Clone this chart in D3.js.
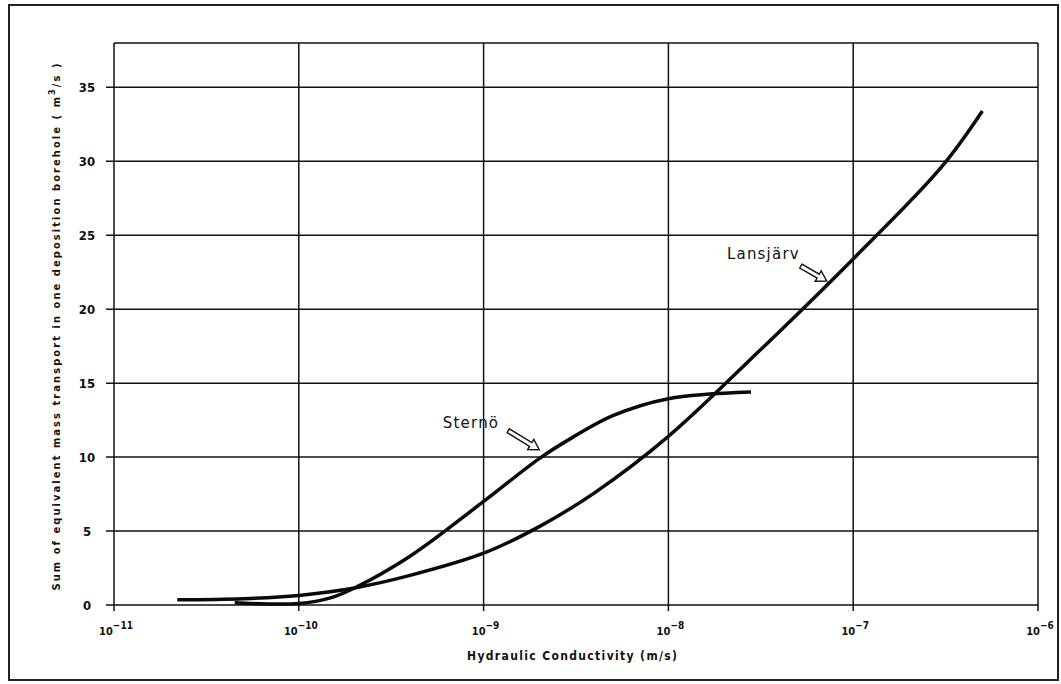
<!DOCTYPE html>
<html>
<head>
<meta charset="utf-8">
<script src="https://cdn.jsdelivr.net/npm/d3@7"></script>
<style>
  body { margin: 0; background: #fff; }
  text { font-family: "DejaVu Sans Condensed", "DejaVu Sans", sans-serif; font-weight: bold; fill: #111; }
  text.note { font-family: "DejaVu Sans", sans-serif; font-weight: normal; }
</style>
</head>
<body>
<svg id="chart" width="1061" height="684"></svg>
<script>
// hydraulic conductivity (m/s) vs mass transport (m3/s)
const lansjarvK = [2.2e-11, 5e-11, 1e-10, 2e-10, 4e-10, 1e-9, 2e-9, 4e-9, 1e-8, 3e-8, 1e-7, 3e-7, 5e-7];
const lansjarvQ = [0.35, 0.42, 0.65, 1.15, 2.0, 3.5, 5.3, 7.6, 11.4, 17.0, 23.4, 29.6, 33.4];

const sternoK = [4.5e-11, 1e-10, 1.5e-10, 2e-10, 4e-10, 1e-9, 2e-9, 3e-9, 5e-9, 1e-8, 2.8e-8];
const sternoQ = [0.15, 0.1, 0.5, 1.15, 3.3, 7.0, 9.9, 11.3, 12.8, 13.95, 14.4];

const xTicks = [1e-11, 1e-10, 1e-9, 1e-8, 1e-7, 1e-6];
const xTickExp = ["-11", "-10", "-9", "-8", "-7", "-6"];
const yTicks = [0, 5, 10, 15, 20, 25, 30, 35];

// labels with the point their arrow points at
const labelNames = ["Lansjärv", "Sternö"];
const labelK = [7.2e-8, 2.0e-9];
const labelQ = [21.9, 10.5];

let svg = d3.select("#chart"),
    margin = {top: 43, right: 23, bottom: 79, left: 114},
    width = +svg.attr("width") - margin.left - margin.right,
    height = +svg.attr("height") - margin.top - margin.bottom;

// outer frame
svg.append("rect")
    .attr("x", 9).attr("y", 5)
    .attr("width", 1049).attr("height", 675)
    .attr("fill", "none")
    .attr("stroke", "#222")
    .attr("stroke-width", 2);

let x = d3.scaleLog().domain([1e-11, 1e-6]).range([0, width]),
    y = d3.scaleLinear().domain([0, 38]).range([height, 0]);

let g = svg.append("g")
    .attr("transform", "translate(" + margin.left + "," + margin.top + ")");

// grid
g.selectAll(".vgrid")
  .data(xTicks)
  .enter().append("line")
    .attr("x1", d => x(d)).attr("x2", d => x(d))
    .attr("y1", 0).attr("y2", height + 6)
    .attr("stroke", "#111").attr("stroke-width", 1.5);

g.selectAll(".hgrid")
  .data(yTicks)
  .enter().append("line")
    .attr("x1", -8).attr("x2", width)
    .attr("y1", d => y(d)).attr("y2", d => y(d))
    .attr("stroke", "#111").attr("stroke-width", 1.5);

// top border
g.append("line")
    .attr("x1", 0).attr("x2", width)
    .attr("y1", 0).attr("y2", 0)
    .attr("stroke", "#111").attr("stroke-width", 1.5);

// y tick labels
g.selectAll(".ylab")
  .data(yTicks)
  .enter().append("text")
    .attr("x", -27)
    .attr("y", d => y(d))
    .attr("dy", "0.36em")
    .attr("text-anchor", "middle")
    .attr("font-size", 13)
    .text(d => d);

// x tick labels: 10 with exponent
let xl = g.selectAll(".xlab")
  .data(xTicks)
  .enter().append("text")
    .attr("x", d => x(d) + 2)
    .attr("y", height + 30)
    .attr("text-anchor", "middle")
    .attr("font-size", 11);
xl.append("tspan").text("10");
xl.append("tspan")
    .attr("dy", -6)
    .attr("font-size", 10)
    .text((d, i) => xTickExp[i].replace("-", "−"));

// axis titles
svg.append("text")
    .attr("x", 572)
    .attr("y", 660)
    .attr("text-anchor", "middle")
    .attr("font-size", 12)
    .attr("textLength", 210)
    .attr("lengthAdjust", "spacing")
    .text("Hydraulic Conductivity (m/s)");

let yt = svg.append("text")
    .attr("transform", "translate(60,327) rotate(-90)")
    .attr("text-anchor", "middle")
    .attr("font-size", 11)
    .attr("textLength", 527)
    .attr("lengthAdjust", "spacing");
yt.append("tspan").text("Sum of equivalent mass transport in one deposition borehole ( m");
yt.append("tspan").attr("dy", -5).attr("font-size", 9).text("3");
yt.append("tspan").attr("dy", 5).text("/s )");

// curves
let line = d3.line()
    .x(d => x(d[0]))
    .y(d => y(d[1]))
    .curve(d3.curveCatmullRom.alpha(0.5));

let series = [
  d3.zip(lansjarvK, lansjarvQ),
  d3.zip(sternoK, sternoQ)
];

g.selectAll(".curve")
  .data(series)
  .enter().append("path")
    .attr("d", line)
    .attr("fill", "none")
    .attr("stroke", "#0a0a0a")
    .attr("stroke-width", 3.5)
    .attr("stroke-linecap", "butt");

// hollow arrow from tail offset to the tip
function hollowArrow(tx, ty, dx, dy) {
  let len = Math.sqrt(dx * dx + dy * dy),
      ang = Math.atan2(-dy, -dx) * 180 / Math.PI,
      hw = 2.2, headW = 6, headL = 10;
  let pts = [
    [0, -hw], [len - headL, -hw], [len - headL, -headW], [len, 0],
    [len - headL, headW], [len - headL, hw], [0, hw]
  ];
  g.append("path")
    .attr("d", "M" + pts.map(p => p.join(",")).join("L") + "Z")
    .attr("transform", "translate(" + (tx + dx) + "," + (ty + dy) + ") rotate(" + ang + ")")
    .attr("fill", "#fff")
    .attr("stroke", "#111")
    .attr("stroke-width", 1.4);
}

let arrowOff = [[-26, -15], [-31, -19]];
let textOff = [[-27, -22], [-40, -22]];

labelNames.forEach(function(name, i) {
  let px = x(labelK[i]), py = y(labelQ[i]);
  hollowArrow(px, py, arrowOff[i][0], arrowOff[i][1]);
  g.append("text")
    .attr("class", "note")
    .attr("x", px + textOff[i][0])
    .attr("y", py + textOff[i][1])
    .attr("text-anchor", "end")
    .attr("font-size", 15)
    .attr("letter-spacing", 1.2)
    .text(name);
});
</script>
</body>
</html>
